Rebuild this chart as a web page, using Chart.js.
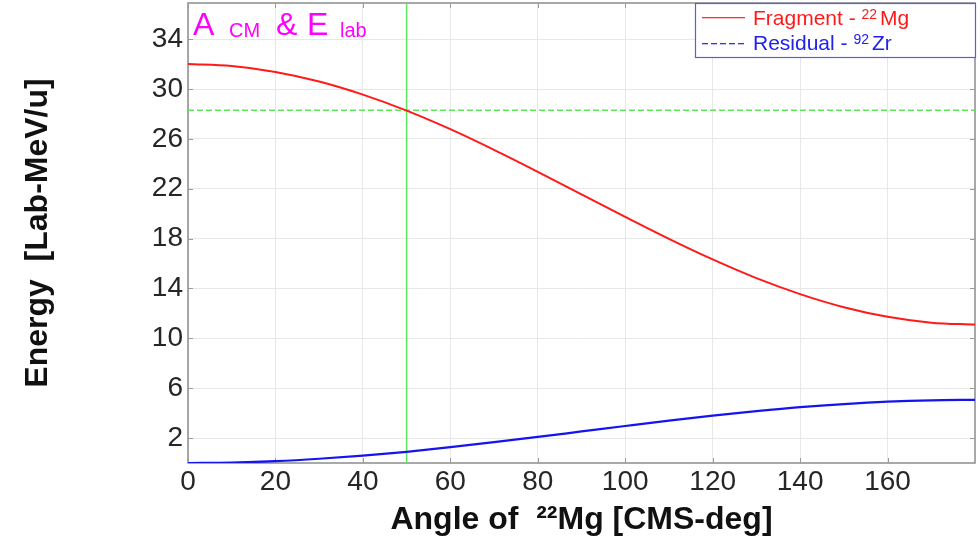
<!DOCTYPE html>
<html>
<head>
<meta charset="utf-8">
<script src="https://cdn.jsdelivr.net/npm/chart.js@4"></script>
<style>
  html, body { margin: 0; padding: 0; background: #ffffff; }
  #wrap { position: relative; width: 980px; height: 540px; }
</style>
</head>
<body>
<div id="wrap"><canvas id="kinChart"></canvas></div>
<script>
// CM angle of the fragment (deg)
const angles = [0, 10, 20, 30, 40, 50, 60, 70, 80, 90, 100, 110, 120, 130, 140, 150, 160, 170, 180];
// Lab energy per nucleon
const fragmentEnergy = [32.0, 31.84, 31.37, 30.6, 29.55, 28.27, 26.78, 25.12, 23.36, 21.55, 19.74, 17.98, 16.33, 14.83, 13.55, 12.5, 11.73, 11.26, 11.1];
const residualEnergy = [0.0, 0.04, 0.15, 0.34, 0.59, 0.9, 1.27, 1.67, 2.09, 2.53, 2.97, 3.4, 3.8, 4.16, 4.48, 4.73, 4.92, 5.03, 5.07];

// green cursor lines
const cursorAngle = 50;
const cursorEnergy = 28.3;

const xTicks = [0, 20, 40, 60, 80, 100, 120, 140, 160];
const yTicks = [2, 6, 10, 14, 18, 22, 26, 30, 34];

const legendNames = ['Fragment - ', 'Residual - '];
const legendMass = ['22', '92'];
const legendElem = ['Mg', 'Zr'];

const FONT = "'Liberation Sans', Arial, sans-serif";
Chart.defaults.font.family = FONT;
Chart.defaults.color = '#262626';

const toXY = (ys) => angles.map((a, i) => ({ x: a, y: ys[i] }));

const overlayPlugin = {
    id: 'overlay',
    beforeDatasetsDraw(chart) {
        const { ctx, chartArea: a, scales } = chart;
        ctx.save();
        ctx.strokeStyle = '#8c8c8c';
        ctx.lineWidth = 1.5;
        ctx.strokeRect(a.left, a.top, a.right - a.left, a.bottom - a.top);
        // small inward tick marks
        ctx.strokeStyle = '#9a9a9a';
        ctx.lineWidth = 1;
        ctx.beginPath();
        yTicks.forEach(v => {
            const y = Math.round(scales.y.getPixelForValue(v)) + 0.5;
            ctx.moveTo(a.left, y); ctx.lineTo(a.left + 5, y);
            ctx.moveTo(a.right - 5, y); ctx.lineTo(a.right, y);
        });
        xTicks.forEach(v => {
            const x = Math.round(scales.x.getPixelForValue(v)) + 0.5;
            ctx.moveTo(x, a.bottom); ctx.lineTo(x, a.bottom - 5);
            ctx.moveTo(x, a.top); ctx.lineTo(x, a.top + 5);
        });
        ctx.stroke();
        ctx.restore();
    },
    afterDraw(chart) {
        const { ctx, chartArea: a } = chart;
        ctx.save();
        ctx.textBaseline = 'alphabetic';
        ctx.textAlign = 'left';

        // title "A CM & E lab" in the top-left corner
        ctx.fillStyle = '#ff00ff';
        const parts = [
            ['A', 32, 5, 35], ['CM', 20, 41, 37], ['&', 32, 88, 35],
            ['E', 32, 119, 35], ['lab', 20, 152, 37]
        ];
        parts.forEach(p => {
            ctx.font = p[1] + 'px ' + FONT;
            ctx.fillText(p[0], a.left + p[2], p[3]);
        });

        // legend box
        const bx = 695, by = 3, bw = 280, bh = 54;
        ctx.fillStyle = '#ffffff';
        ctx.fillRect(bx, by, bw, bh);
        ctx.strokeStyle = '#5a5ae6';
        ctx.lineWidth = 1.2;
        ctx.strokeRect(bx + 0.5, by + 0.5, bw, bh);

        const lineColors = ['#ff3030', '#3030f0'];
        const textColors = ['#ff1a1a', '#2020f0'];
        const rows = [17, 43];
        const bases = [25, 50];
        for (let i = 0; i < 2; i++) {
            ctx.fillStyle = lineColors[i];
            if (i === 0) {
                ctx.fillRect(bx + 7, rows[i], 43, 1.3);
            } else {
                for (let dx = 0; dx < 43; dx += 9) {
                    ctx.fillRect(bx + 7 + dx, rows[i], Math.min(6, 43 - dx), 1.3);
                }
            }

            ctx.fillStyle = textColors[i];
            let x = bx + 58;
            ctx.font = '21px ' + FONT;
            ctx.fillText(legendNames[i], x, bases[i]);
            x += ctx.measureText(legendNames[i]).width;
            ctx.font = '14px ' + FONT;
            ctx.fillText(legendMass[i], x, bases[i] - 6);
            x += ctx.measureText(legendMass[i]).width + 3;
            ctx.font = '21px ' + FONT;
            ctx.fillText(legendElem[i], x, bases[i]);
        }
        ctx.restore();
    }
};

const ctx = document.getElementById('kinChart').getContext('2d');
new Chart(ctx, {
    type: 'line',
    data: {
        datasets: [
            {
                label: 'Fragment - 22Mg',
                data: toXY(fragmentEnergy),
                borderColor: '#ff1a1a',
                borderWidth: 2,
                pointRadius: 0,
                cubicInterpolationMode: 'monotone'
            },
            {
                label: 'Residual - 92Zr',
                data: toXY(residualEnergy),
                borderColor: '#1414ee',
                borderWidth: 2.2,
                pointRadius: 0,
                cubicInterpolationMode: 'monotone'
            },
            {
                label: 'angle cursor',
                data: [{ x: cursorAngle, y: 0 }, { x: cursorAngle, y: 40 }],
                borderColor: '#5ce65c',
                borderWidth: 1.5,
                pointRadius: 0
            },
            {
                label: 'energy cursor',
                data: [{ x: 0, y: cursorEnergy }, { x: 180, y: cursorEnergy }],
                borderColor: '#5ce65c',
                borderWidth: 1.5,
                borderDash: [6, 3],
                pointRadius: 0
            }
        ]
    },
    options: {
        responsive: true,
        maintainAspectRatio: false,
        animation: false,
        layout: { padding: { top: 3, right: 5, left: 0, bottom: 0 } },
        plugins: {
            legend: { display: false },
            tooltip: { enabled: false }
        },
        scales: {
            x: {
                type: 'linear',
                min: 0,
                max: 180,
                afterBuildTicks: (s) => { s.ticks = xTicks.map(v => ({ value: v })); },
                afterFit: (s) => { s.height = 77; s.paddingLeft = 0; s.paddingRight = 0; },
                grid: { color: '#e8e8e8', drawTicks: false },
                border: { display: false },
                ticks: { font: { size: 28 }, padding: 2, maxRotation: 0, autoSkip: false },
                title: {
                    display: true,
                    text: 'Angle of  ²²Mg [CMS-deg]',
                    font: { size: 32, weight: 'bold' },
                    color: '#111111',
                    padding: { top: 0, bottom: 1 }
                }
            },
            y: {
                min: 0,
                max: 36.9,
                afterBuildTicks: (s) => { s.ticks = yTicks.map(v => ({ value: v })); },
                afterFit: (s) => { s.width = 188; s.paddingTop = 0; s.paddingBottom = 0; },
                grid: { color: '#e8e8e8', drawTicks: false },
                border: { display: false },
                ticks: { font: { size: 28 }, padding: 5, autoSkip: false },
                title: {
                    display: true,
                    text: 'Energy  [Lab-MeV/u]',
                    font: { size: 32, weight: 'bold' },
                    color: '#111111',
                    padding: { top: 19, bottom: 0 }
                }
            }
        }
    },
    plugins: [overlayPlugin]
});
</script>
</body>
</html>
